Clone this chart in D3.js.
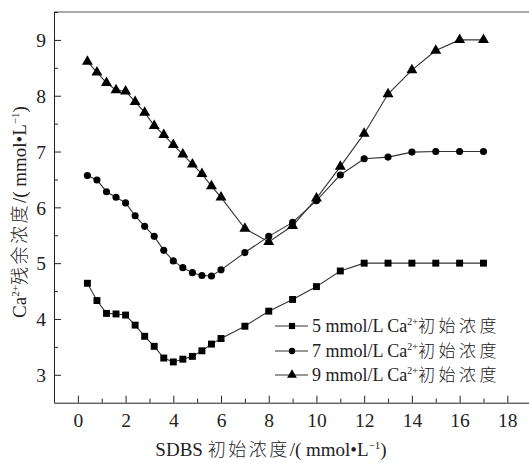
<!DOCTYPE html>
<html><head><meta charset="utf-8">
<script src="https://cdn.jsdelivr.net/npm/d3@7"></script>
<style>body{margin:0;background:#fff}svg{display:block}text{font-family:"Liberation Serif","Noto Sans CJK SC",serif;fill:#222}.cj{font-family:"Noto Sans CJK SC",sans-serif;font-weight:300}</style>
</head><body><svg id="c" width="529" height="463"></svg>
<script>
const xs = [0.4,0.8,1.2,1.6,2.0,2.4,2.8,3.2,3.6,4.0,4.4,4.8,5.2,5.6,6.0,7,8,9,10,11,12,13,14,15,16,17];
const s5 = [4.64,4.33,4.10,4.09,4.07,3.89,3.69,3.51,3.30,3.23,3.28,3.33,3.43,3.55,3.65,3.87,4.14,4.35,4.58,4.86,5.0,5.0,5.0,5.0,5.0,5.0];
const s7 = [6.57,6.49,6.28,6.18,6.08,5.85,5.66,5.48,5.23,5.04,4.92,4.83,4.78,4.77,4.88,5.19,5.48,5.73,6.12,6.58,6.87,6.90,6.99,7.0,7.0,7.0];
const s9 = [8.61,8.42,8.23,8.10,8.08,7.89,7.70,7.46,7.30,7.12,6.95,6.77,6.60,6.38,6.18,5.62,5.38,5.67,6.16,6.73,7.32,8.03,8.46,8.81,9.0,9.0];
const seriesNames = ["5 mmol/L Ca","7 mmol/L Ca","9 mmol/L Ca"];
const xTicks = [0,2,4,6,8,10,12,14,16,18];
const yTicks = [3,4,5,6,7,8,9];

const svg = d3.select("#c");
const L=54, T=12, B=402.7;
const x = d3.scaleLinear().domain([-1,19]).range([L, L+20*23.86]);
const y = d3.scaleLinear().domain([2.5,9.5]).range([B, T]);

svg.append("line").attr("x1",L).attr("x2",540).attr("y1",T).attr("y2",T).attr("stroke","#555").attr("stroke-width",1);

const gx = svg.append("g").attr("transform",`translate(0,${B})`);
gx.call(d3.axisBottom(x).tickValues(d3.range(-1,20,1)).tickSize(0).tickFormat(""));
gx.select(".domain").attr("stroke","#222");
gx.selectAll(".tick").each(function(d){
  const g=d3.select(this);
  const major = xTicks.includes(d);
  g.select("line").attr("y2", major?-7:-4).attr("stroke","#222");
  if(major) g.append("text").attr("y",24.5).attr("text-anchor","middle").style("font-size","19.5px").text(d);
});
const gy = svg.append("g").attr("transform",`translate(${L},0)`);
gy.call(d3.axisLeft(y).tickValues(d3.range(3,9.6,0.5)).tickSize(0).tickFormat(""));
gy.select(".domain").attr("stroke","#222");
gy.selectAll(".tick").each(function(d){
  const g=d3.select(this);
  const major = yTicks.includes(d);
  g.select("line").attr("x2", major?7:4).attr("stroke","#222");
  if(major) g.append("text").attr("x",-8).attr("dy","0.35em").attr("text-anchor","end").style("font-size","19.5px").text(d);
});

const line = d3.line().x((d,i)=>x(xs[i])).y(d=>y(d));
const sym = [d3.symbolSquare, d3.symbolCircle, d3.symbolTriangle];
const sizes = [48, 40, 52];
[s5,s7,s9].forEach((s,k)=>{
  svg.append("path").attr("d",line(s)).attr("fill","none").attr("stroke","#333").attr("stroke-width",1.1);
  svg.selectAll(null).data(s).join("path")
    .attr("d",d3.symbol(sym[k],sizes[k]))
    .attr("transform",(d,i)=>`translate(${x(xs[i])},${y(d)})`)
    .attr("fill","#000");
});

const ly=[326,351,375];
seriesNames.forEach((n,k)=>{
  svg.append("line").attr("x1",275).attr("x2",308).attr("y1",ly[k]).attr("y2",ly[k]).attr("stroke","#333").attr("stroke-width",1.1);
  svg.append("path").attr("d",d3.symbol(sym[k],sizes[k]*0.8)).attr("transform",`translate(292,${ly[k]})`).attr("fill","#000");
  const t=svg.append("text").attr("x",312).attr("y",ly[k]+6).style("font-size","18px");
  t.append("tspan").text(n);
  t.append("tspan").attr("dy",-7).style("font-size","10px").text("2+");
  t.append("tspan").attr("dy",7).attr("class","cj").style("font-size","17px").style("letter-spacing","3.5px").text("初始浓度");
});

const xt=svg.append("text").attr("x",271).attr("y",456).attr("text-anchor","middle").style("font-size","19px");
xt.append("tspan").text("SDBS ");
xt.append("tspan").attr("class","cj").style("font-size","18px").style("letter-spacing","2.5px").text("初始浓度");
xt.append("tspan").text("/( mmol•L");
xt.append("tspan").attr("dy",-7).style("font-size","11px").text("−1");
xt.append("tspan").attr("dy",7).text(")");

const yt=svg.append("text").attr("transform","translate(26,212) rotate(-90)").attr("text-anchor","middle").style("font-size","19px");
yt.append("tspan").text("Ca");
yt.append("tspan").attr("dy",-7).style("font-size","11px").text("2+");
yt.append("tspan").attr("dy",7).attr("class","cj").style("font-size","18px").style("letter-spacing","2.5px").text("残余浓度");
yt.append("tspan").text("/( mmol•L");
yt.append("tspan").attr("dy",-7).style("font-size","11px").text("−1");
yt.append("tspan").attr("dy",7).text(")");
</script></body></html>
